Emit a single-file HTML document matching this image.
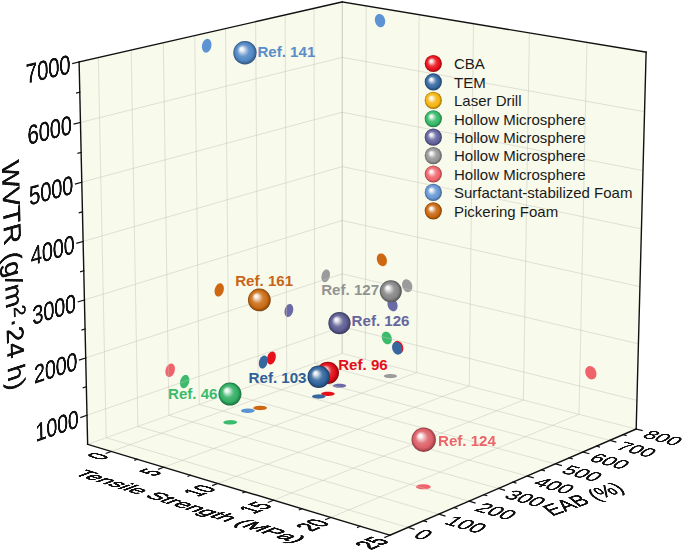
<!DOCTYPE html>
<html><head><meta charset="utf-8"><title>3D scatter</title>
<style>
html,body{margin:0;padding:0;background:#fff;overflow:hidden;}
#c{position:relative;width:685px;height:552px;overflow:hidden;background:#fff;font-family:"Liberation Sans",sans-serif;}
#c svg{position:absolute;left:0;top:0;}
.pl{position:absolute;left:0;top:0;transform-origin:0 0;white-space:nowrap;color:#111;}
.lg{position:absolute;font-size:15px;line-height:18px;color:#1a1a1a;white-space:nowrap;}
.rf{position:absolute;font-size:15.1px;line-height:17px;font-weight:bold;white-space:nowrap;}
.yt2 sup{font-size:0.7em;vertical-align:0;position:relative;top:-0.45em;}
</style></head><body><div id="c">
<svg width="685" height="552" viewBox="0 0 685 552"><defs><radialGradient id="g141" cx="0.5" cy="0.5" r="0.5" fx="0.34" fy="0.32"><stop offset="0" stop-color="#ffffff"/><stop offset="0.15" stop-color="#eaf0f8"/><stop offset="0.3" stop-color="#b0c9e4"/><stop offset="0.5" stop-color="#6897cc"/><stop offset="0.78" stop-color="#4f86c4"/><stop offset="1" stop-color="#31537a"/></radialGradient><radialGradient id="g161" cx="0.5" cy="0.5" r="0.5" fx="0.34" fy="0.32"><stop offset="0" stop-color="#ffffff"/><stop offset="0.15" stop-color="#f9ede3"/><stop offset="0.3" stop-color="#e7bc94"/><stop offset="0.5" stop-color="#d17f33"/><stop offset="0.78" stop-color="#c96a12"/><stop offset="1" stop-color="#7d420b"/></radialGradient><radialGradient id="g127" cx="0.5" cy="0.5" r="0.5" fx="0.34" fy="0.32"><stop offset="0" stop-color="#ffffff"/><stop offset="0.15" stop-color="#f0f0f0"/><stop offset="0.3" stop-color="#c8c8c8"/><stop offset="0.5" stop-color="#969696"/><stop offset="0.78" stop-color="#858585"/><stop offset="1" stop-color="#525252"/></radialGradient><radialGradient id="g126" cx="0.5" cy="0.5" r="0.5" fx="0.34" fy="0.32"><stop offset="0" stop-color="#ffffff"/><stop offset="0.15" stop-color="#ebebf2"/><stop offset="0.3" stop-color="#b5b5cd"/><stop offset="0.5" stop-color="#7171a0"/><stop offset="0.78" stop-color="#5a5a90"/><stop offset="1" stop-color="#383859"/></radialGradient><radialGradient id="g96" cx="0.5" cy="0.5" r="0.5" fx="0.34" fy="0.32"><stop offset="0" stop-color="#ffffff"/><stop offset="0.15" stop-color="#fbe2e3"/><stop offset="0.3" stop-color="#f19195"/><stop offset="0.5" stop-color="#e42c35"/><stop offset="0.78" stop-color="#e00a14"/><stop offset="1" stop-color="#8b060c"/></radialGradient><radialGradient id="g103" cx="0.5" cy="0.5" r="0.5" fx="0.34" fy="0.32"><stop offset="0" stop-color="#ffffff"/><stop offset="0.15" stop-color="#e6ecf3"/><stop offset="0.3" stop-color="#a1b9d2"/><stop offset="0.5" stop-color="#4c79aa"/><stop offset="0.78" stop-color="#2f639c"/><stop offset="1" stop-color="#1d3d61"/></radialGradient><radialGradient id="g46" cx="0.5" cy="0.5" r="0.5" fx="0.34" fy="0.32"><stop offset="0" stop-color="#ffffff"/><stop offset="0.15" stop-color="#e6f5ec"/><stop offset="0.3" stop-color="#a1dbb8"/><stop offset="0.5" stop-color="#4cb978"/><stop offset="0.78" stop-color="#2fae62"/><stop offset="1" stop-color="#1d6c3d"/></radialGradient><radialGradient id="g124" cx="0.5" cy="0.5" r="0.5" fx="0.34" fy="0.32"><stop offset="0" stop-color="#ffffff"/><stop offset="0.15" stop-color="#fbeced"/><stop offset="0.3" stop-color="#efb7bb"/><stop offset="0.5" stop-color="#e1757c"/><stop offset="0.78" stop-color="#dc5e67"/><stop offset="1" stop-color="#883a40"/></radialGradient><radialGradient id="l0" cx="0.5" cy="0.5" r="0.5" fx="0.36" fy="0.34"><stop offset="0" stop-color="#ffffff"/><stop offset="0.15" stop-color="#fce2e4"/><stop offset="0.3" stop-color="#f59398"/><stop offset="0.5" stop-color="#eb313a"/><stop offset="0.78" stop-color="#e8101a"/><stop offset="1" stop-color="#900a10"/></radialGradient><radialGradient id="l1" cx="0.5" cy="0.5" r="0.5" fx="0.36" fy="0.34"><stop offset="0" stop-color="#ffffff"/><stop offset="0.15" stop-color="#e7edf4"/><stop offset="0.3" stop-color="#a3bad4"/><stop offset="0.5" stop-color="#507bad"/><stop offset="0.78" stop-color="#3366a0"/><stop offset="1" stop-color="#203f63"/></radialGradient><radialGradient id="l2" cx="0.5" cy="0.5" r="0.5" fx="0.36" fy="0.34"><stop offset="0" stop-color="#ffffff"/><stop offset="0.15" stop-color="#fef6e2"/><stop offset="0.3" stop-color="#fadd93"/><stop offset="0.5" stop-color="#f6be30"/><stop offset="0.78" stop-color="#f5b40e"/><stop offset="1" stop-color="#987009"/></radialGradient><radialGradient id="l3" cx="0.5" cy="0.5" r="0.5" fx="0.36" fy="0.34"><stop offset="0" stop-color="#ffffff"/><stop offset="0.15" stop-color="#e7f6ed"/><stop offset="0.3" stop-color="#a4dfba"/><stop offset="0.5" stop-color="#50c27b"/><stop offset="0.78" stop-color="#34b866"/><stop offset="1" stop-color="#20723f"/></radialGradient><radialGradient id="l4" cx="0.5" cy="0.5" r="0.5" fx="0.36" fy="0.34"><stop offset="0" stop-color="#ffffff"/><stop offset="0.15" stop-color="#ececf3"/><stop offset="0.3" stop-color="#b8b8d3"/><stop offset="0.5" stop-color="#7878ac"/><stop offset="0.78" stop-color="#62629e"/><stop offset="1" stop-color="#3d3d62"/></radialGradient><radialGradient id="l5" cx="0.5" cy="0.5" r="0.5" fx="0.36" fy="0.34"><stop offset="0" stop-color="#ffffff"/><stop offset="0.15" stop-color="#f2f2f2"/><stop offset="0.3" stop-color="#cfcfcf"/><stop offset="0.5" stop-color="#a4a4a4"/><stop offset="0.78" stop-color="#959595"/><stop offset="1" stop-color="#5c5c5c"/></radialGradient><radialGradient id="l6" cx="0.5" cy="0.5" r="0.5" fx="0.36" fy="0.34"><stop offset="0" stop-color="#ffffff"/><stop offset="0.15" stop-color="#fdeced"/><stop offset="0.3" stop-color="#f8b9bd"/><stop offset="0.5" stop-color="#f27a81"/><stop offset="0.78" stop-color="#f0646c"/><stop offset="1" stop-color="#953e43"/></radialGradient><radialGradient id="l7" cx="0.5" cy="0.5" r="0.5" fx="0.36" fy="0.34"><stop offset="0" stop-color="#ffffff"/><stop offset="0.15" stop-color="#edf2fa"/><stop offset="0.3" stop-color="#bad0ec"/><stop offset="0.5" stop-color="#7ba5da"/><stop offset="0.78" stop-color="#6596d4"/><stop offset="1" stop-color="#3f5d83"/></radialGradient><radialGradient id="l8" cx="0.5" cy="0.5" r="0.5" fx="0.36" fy="0.34"><stop offset="0" stop-color="#ffffff"/><stop offset="0.15" stop-color="#f8ede2"/><stop offset="0.3" stop-color="#e6ba93"/><stop offset="0.5" stop-color="#d07b31"/><stop offset="0.78" stop-color="#c8660f"/><stop offset="1" stop-color="#7c3f09"/></radialGradient></defs><polygon points="87.64,444.32 342.17,353.44 342.27,1.95 79.11,62.00" fill="#f8faeb"/><polygon points="342.17,353.44 636.17,429.02 646.12,52.19 342.27,1.95" fill="#f8faeb"/><polygon points="87.64,444.32 389.90,535.23 636.17,429.02 342.17,353.44" fill="#f8faeb"/><g><path d="M211.46,44.65 L211.37,43.48 L211.15,42.39 L210.79,41.39 L210.30,40.53 L209.71,39.83 L209.02,39.30 L208.27,38.97 L207.46,38.85 L206.63,38.93 L205.81,39.23 L205.01,39.72 L204.26,40.40 L203.59,41.24 L203.01,42.21 L202.55,43.30 L202.21,44.46 L202.01,45.66 L201.95,46.86 L202.03,48.03 L202.26,49.13 L202.63,50.12 L203.12,50.99 L203.71,51.69 L204.40,52.21 L205.16,52.53 L205.96,52.65 L206.79,52.56 L207.61,52.27 L208.41,51.77 L209.15,51.09 L209.82,50.25 L210.40,49.28 L210.86,48.20 L211.20,47.04 L211.40,45.85Z" fill="#5b93d3"/><path d="M385.19,21.45 L385.12,20.29 L384.89,19.15 L384.51,18.04 L384.00,17.02 L383.36,16.10 L382.63,15.32 L381.81,14.69 L380.94,14.25 L380.04,14.00 L379.15,13.95 L378.28,14.11 L377.46,14.45 L376.72,14.99 L376.08,15.69 L375.57,16.54 L375.18,17.52 L374.95,18.58 L374.87,19.71 L374.94,20.86 L375.17,22.00 L375.55,23.10 L376.06,24.13 L376.69,25.04 L377.42,25.82 L378.24,26.45 L379.10,26.89 L380.00,27.14 L380.89,27.20 L381.77,27.05 L382.58,26.70 L383.32,26.17 L383.96,25.47 L384.48,24.62 L384.87,23.64 L385.11,22.58Z" fill="#5b93d3"/><path d="M252.92,412.14 L253.64,411.82 L254.18,411.48 L254.53,411.11 L254.68,410.73 L254.61,410.34 L254.35,409.97 L253.88,409.63 L253.23,409.32 L252.42,409.04 L251.47,408.82 L250.41,408.66 L249.27,408.56 L248.09,408.53 L246.90,408.56 L245.74,408.66 L244.64,408.82 L243.64,409.04 L242.77,409.31 L242.05,409.62 L241.50,409.96 L241.15,410.33 L241.00,410.71 L241.06,411.09 L241.32,411.46 L241.78,411.81 L242.43,412.13 L243.24,412.40 L244.19,412.62 L245.26,412.78 L246.40,412.88 L247.58,412.92 L248.78,412.89 L249.94,412.79 L251.04,412.63 L252.05,412.41Z" fill="#5b93d3"/><path d="M223.83,288.48 L223.75,287.38 L223.53,286.35 L223.18,285.43 L222.71,284.65 L222.13,284.02 L221.47,283.58 L220.73,283.33 L219.95,283.29 L219.15,283.44 L218.35,283.80 L217.57,284.34 L216.85,285.05 L216.19,285.91 L215.63,286.90 L215.18,287.97 L214.85,289.11 L214.65,290.28 L214.59,291.43 L214.68,292.54 L214.90,293.57 L215.25,294.49 L215.72,295.27 L216.30,295.89 L216.97,296.33 L217.70,296.57 L218.48,296.62 L219.29,296.46 L220.09,296.10 L220.86,295.56 L221.58,294.85 L222.24,293.99 L222.80,293.00 L223.25,291.93 L223.57,290.79 L223.77,289.63Z" fill="#cd6712"/><path d="M386.94,260.98 L386.87,259.87 L386.65,258.75 L386.28,257.67 L385.77,256.65 L385.15,255.73 L384.43,254.93 L383.63,254.28 L382.78,253.80 L381.90,253.50 L381.02,253.40 L380.16,253.49 L379.36,253.77 L378.64,254.24 L378.01,254.87 L377.51,255.65 L377.13,256.56 L376.90,257.57 L376.82,258.65 L376.89,259.76 L377.12,260.87 L377.48,261.96 L377.99,262.97 L378.61,263.89 L379.32,264.69 L380.12,265.34 L380.97,265.82 L381.85,266.12 L382.73,266.23 L383.58,266.14 L384.39,265.86 L385.11,265.40 L385.74,264.77 L386.25,263.98 L386.63,263.07 L386.86,262.06Z" fill="#cd6712"/><path d="M265.21,409.38 L265.92,409.07 L266.46,408.72 L266.80,408.35 L266.94,407.97 L266.88,407.60 L266.61,407.23 L266.14,406.88 L265.49,406.57 L264.67,406.30 L263.72,406.08 L262.67,405.92 L261.53,405.82 L260.35,405.79 L259.17,405.82 L258.01,405.92 L256.92,406.08 L255.92,406.29 L255.05,406.56 L254.34,406.87 L253.80,407.22 L253.45,407.58 L253.30,407.96 L253.37,408.34 L253.63,408.71 L254.10,409.06 L254.75,409.37 L255.56,409.64 L256.51,409.86 L257.57,410.02 L258.71,410.12 L259.90,410.16 L261.09,410.12 L262.25,410.03 L263.34,409.87 L264.34,409.65Z" fill="#cd6712"/><path d="M329.95,274.41 L329.89,273.35 L329.69,272.35 L329.38,271.47 L328.95,270.71 L328.43,270.11 L327.82,269.68 L327.14,269.44 L326.42,269.39 L325.68,269.54 L324.94,269.87 L324.22,270.39 L323.54,271.07 L322.93,271.90 L322.41,272.84 L321.98,273.88 L321.66,274.97 L321.47,276.09 L321.41,277.20 L321.48,278.27 L321.67,279.26 L321.99,280.15 L322.42,280.90 L322.95,281.50 L323.56,281.93 L324.23,282.16 L324.95,282.21 L325.69,282.06 L326.44,281.72 L327.15,281.20 L327.83,280.52 L328.44,279.70 L328.96,278.75 L329.38,277.72 L329.70,276.63 L329.89,275.52Z" fill="#9b9b9b"/><path d="M412.31,286.92 L412.24,285.80 L412.01,284.68 L411.64,283.59 L411.13,282.57 L410.50,281.64 L409.78,280.83 L408.97,280.18 L408.11,279.69 L407.22,279.38 L406.33,279.27 L405.46,279.36 L404.65,279.63 L403.92,280.09 L403.28,280.73 L402.77,281.51 L402.39,282.42 L402.15,283.43 L402.07,284.51 L402.14,285.62 L402.36,286.74 L402.73,287.83 L403.24,288.85 L403.86,289.78 L404.59,290.58 L405.39,291.24 L406.25,291.73 L407.14,292.03 L408.03,292.15 L408.89,292.07 L409.71,291.79 L410.44,291.33 L411.08,290.70 L411.60,289.92 L411.98,289.01 L412.22,288.00Z" fill="#9b9b9b"/><path d="M395.50,377.40 L396.16,377.10 L396.63,376.78 L396.92,376.44 L397.01,376.08 L396.90,375.72 L396.59,375.38 L396.10,375.05 L395.43,374.76 L394.61,374.51 L393.66,374.30 L392.62,374.15 L391.50,374.06 L390.36,374.03 L389.21,374.06 L388.11,374.15 L387.07,374.30 L386.13,374.50 L385.32,374.75 L384.67,375.04 L384.19,375.37 L383.89,375.71 L383.80,376.07 L383.90,376.42 L384.21,376.77 L384.70,377.09 L385.37,377.39 L386.19,377.64 L387.14,377.85 L388.19,378.00 L389.30,378.10 L390.45,378.13 L391.60,378.10 L392.71,378.01 L393.76,377.85 L394.70,377.65Z" fill="#9b9b9b"/><path d="M293.25,309.10 L293.18,308.02 L292.98,307.03 L292.65,306.14 L292.21,305.38 L291.67,304.78 L291.04,304.36 L290.35,304.12 L289.61,304.08 L288.85,304.24 L288.09,304.59 L287.35,305.12 L286.66,305.82 L286.04,306.66 L285.50,307.62 L285.06,308.67 L284.74,309.78 L284.55,310.91 L284.49,312.03 L284.56,313.10 L284.77,314.10 L285.09,314.99 L285.54,315.74 L286.08,316.34 L286.71,316.76 L287.40,316.99 L288.14,317.03 L288.90,316.87 L289.66,316.52 L290.40,315.98 L291.09,315.29 L291.71,314.45 L292.24,313.49 L292.68,312.44 L292.99,311.34 L293.19,310.21Z" fill="#6a6aa6"/><path d="M397.59,306.08 L397.52,304.97 L397.29,303.85 L396.92,302.77 L396.42,301.75 L395.80,300.82 L395.07,300.02 L394.27,299.37 L393.42,298.88 L392.54,298.57 L391.66,298.46 L390.80,298.53 L390.00,298.81 L389.27,299.26 L388.64,299.88 L388.13,300.66 L387.76,301.56 L387.52,302.56 L387.44,303.63 L387.52,304.74 L387.74,305.85 L388.11,306.93 L388.61,307.95 L389.23,308.87 L389.95,309.67 L390.75,310.33 L391.60,310.82 L392.48,311.13 L393.36,311.24 L394.22,311.17 L395.02,310.90 L395.75,310.45 L396.38,309.83 L396.89,309.05 L397.27,308.15 L397.50,307.15Z" fill="#6a6aa6"/><path d="M344.56,387.09 L345.23,386.79 L345.73,386.46 L346.04,386.11 L346.15,385.75 L346.06,385.39 L345.76,385.04 L345.28,384.71 L344.62,384.41 L343.80,384.15 L342.86,383.94 L341.81,383.79 L340.69,383.69 L339.54,383.66 L338.38,383.69 L337.26,383.78 L336.20,383.93 L335.24,384.14 L334.41,384.40 L333.74,384.69 L333.23,385.02 L332.92,385.37 L332.81,385.74 L332.90,386.10 L333.18,386.45 L333.67,386.78 L334.32,387.08 L335.14,387.34 L336.09,387.55 L337.14,387.71 L338.26,387.80 L339.42,387.84 L340.58,387.81 L341.71,387.71 L342.77,387.56 L343.73,387.35Z" fill="#6a6aa6"/><path d="M275.79,356.41 L275.72,355.34 L275.51,354.35 L275.18,353.47 L274.74,352.73 L274.19,352.14 L273.56,351.73 L272.86,351.50 L272.11,351.48 L271.34,351.65 L270.57,352.01 L269.83,352.56 L269.14,353.26 L268.51,354.11 L267.97,355.08 L267.53,356.14 L267.21,357.25 L267.01,358.38 L266.95,359.50 L267.03,360.58 L267.24,361.57 L267.57,362.45 L268.02,363.20 L268.57,363.78 L269.20,364.19 L269.90,364.41 L270.65,364.43 L271.42,364.26 L272.18,363.89 L272.92,363.35 L273.62,362.64 L274.24,361.79 L274.78,360.82 L275.22,359.77 L275.54,358.66 L275.73,357.53Z" fill="#e8111b"/><path d="M403.31,348.60 L403.24,347.49 L403.01,346.38 L402.64,345.30 L402.14,344.28 L401.52,343.36 L400.80,342.55 L400.00,341.89 L399.14,341.39 L398.26,341.08 L397.38,340.95 L396.53,341.02 L395.73,341.28 L395.00,341.72 L394.37,342.34 L393.86,343.10 L393.48,343.99 L393.25,344.98 L393.17,346.05 L393.24,347.15 L393.46,348.26 L393.83,349.33 L394.33,350.35 L394.95,351.28 L395.67,352.08 L396.47,352.74 L397.32,353.24 L398.20,353.56 L399.08,353.69 L399.93,353.62 L400.74,353.37 L401.47,352.92 L402.10,352.31 L402.61,351.55 L402.99,350.66 L403.22,349.66Z" fill="#e8111b"/><path d="M332.98,395.18 L333.66,394.88 L334.17,394.54 L334.48,394.19 L334.60,393.82 L334.51,393.45 L334.22,393.09 L333.73,392.76 L333.07,392.45 L332.25,392.19 L331.30,391.98 L330.25,391.82 L329.12,391.73 L327.96,391.69 L326.79,391.72 L325.65,391.82 L324.59,391.97 L323.62,392.18 L322.78,392.44 L322.10,392.75 L321.59,393.08 L321.27,393.44 L321.15,393.81 L321.23,394.17 L321.52,394.53 L322.00,394.87 L322.66,395.17 L323.48,395.44 L324.43,395.65 L325.49,395.81 L326.62,395.91 L327.79,395.94 L328.96,395.91 L330.10,395.81 L331.17,395.66 L332.14,395.45Z" fill="#e8111b"/><path d="M267.73,360.51 L267.66,359.43 L267.45,358.44 L267.12,357.56 L266.67,356.81 L266.12,356.22 L265.48,355.81 L264.78,355.59 L264.03,355.56 L263.25,355.74 L262.48,356.10 L261.73,356.65 L261.03,357.36 L260.40,358.21 L259.86,359.18 L259.42,360.24 L259.10,361.36 L258.90,362.49 L258.84,363.62 L258.92,364.69 L259.13,365.69 L259.46,366.57 L259.91,367.32 L260.47,367.90 L261.11,368.31 L261.81,368.53 L262.56,368.55 L263.34,368.38 L264.11,368.01 L264.85,367.46 L265.55,366.75 L266.18,365.90 L266.72,364.93 L267.16,363.87 L267.48,362.76 L267.67,361.63Z" fill="#36679f"/><path d="M402.21,349.58 L402.14,348.48 L401.91,347.37 L401.55,346.29 L401.04,345.27 L400.42,344.34 L399.70,343.53 L398.90,342.87 L398.05,342.38 L397.17,342.06 L396.29,341.94 L395.43,342.00 L394.63,342.26 L393.91,342.71 L393.28,343.32 L392.77,344.08 L392.39,344.97 L392.16,345.97 L392.08,347.03 L392.15,348.13 L392.37,349.24 L392.74,350.31 L393.24,351.33 L393.86,352.26 L394.58,353.06 L395.38,353.72 L396.23,354.22 L397.10,354.54 L397.98,354.67 L398.84,354.60 L399.64,354.35 L400.37,353.91 L401.00,353.29 L401.51,352.53 L401.89,351.64 L402.12,350.65Z" fill="#36679f"/><path d="M323.85,397.87 L324.54,397.56 L325.05,397.22 L325.37,396.87 L325.49,396.49 L325.40,396.12 L325.11,395.76 L324.63,395.43 L323.97,395.12 L323.15,394.86 L322.20,394.65 L321.14,394.49 L320.01,394.39 L318.84,394.36 L317.67,394.39 L316.54,394.48 L315.46,394.64 L314.49,394.85 L313.65,395.11 L312.96,395.42 L312.45,395.75 L312.12,396.11 L312.00,396.48 L312.08,396.85 L312.37,397.21 L312.85,397.55 L313.50,397.86 L314.32,398.12 L315.28,398.34 L316.34,398.50 L317.47,398.59 L318.64,398.63 L319.81,398.60 L320.96,398.50 L322.03,398.34 L323.01,398.13Z" fill="#36679f"/><path d="M189.36,379.93 L189.28,378.83 L189.05,377.81 L188.69,376.90 L188.21,376.14 L187.62,375.54 L186.94,375.12 L186.20,374.90 L185.40,374.88 L184.58,375.06 L183.77,375.44 L182.98,376.01 L182.24,376.75 L181.58,377.63 L181.01,378.63 L180.55,379.72 L180.22,380.87 L180.02,382.04 L179.96,383.19 L180.05,384.30 L180.28,385.32 L180.64,386.22 L181.13,386.98 L181.72,387.58 L182.40,388.00 L183.15,388.21 L183.94,388.23 L184.76,388.04 L185.57,387.66 L186.36,387.09 L187.09,386.36 L187.76,385.47 L188.32,384.47 L188.78,383.39 L189.11,382.24 L189.31,381.08Z" fill="#3dbb6c"/><path d="M391.83,339.28 L391.76,338.18 L391.54,337.07 L391.17,335.99 L390.67,334.97 L390.05,334.05 L389.33,333.24 L388.54,332.59 L387.69,332.09 L386.81,331.78 L385.94,331.66 L385.09,331.73 L384.29,331.99 L383.57,332.43 L382.94,333.05 L382.44,333.81 L382.06,334.70 L381.83,335.69 L381.75,336.76 L381.82,337.86 L382.05,338.96 L382.41,340.04 L382.91,341.05 L383.53,341.97 L384.24,342.78 L385.04,343.43 L385.88,343.93 L386.76,344.24 L387.63,344.37 L388.49,344.30 L389.28,344.04 L390.01,343.60 L390.63,342.99 L391.14,342.23 L391.52,341.34 L391.75,340.34Z" fill="#3dbb6c"/><path d="M235.34,423.79 L236.07,423.46 L236.62,423.11 L236.98,422.73 L237.14,422.34 L237.08,421.95 L236.82,421.57 L236.35,421.22 L235.70,420.90 L234.88,420.62 L233.93,420.40 L232.86,420.23 L231.71,420.13 L230.52,420.10 L229.31,420.13 L228.14,420.23 L227.03,420.39 L226.01,420.62 L225.12,420.89 L224.39,421.21 L223.83,421.56 L223.47,421.94 L223.31,422.33 L223.36,422.72 L223.62,423.10 L224.08,423.45 L224.73,423.78 L225.54,424.05 L226.50,424.28 L227.58,424.45 L228.73,424.55 L229.93,424.58 L231.14,424.55 L232.31,424.45 L233.43,424.29 L234.45,424.06Z" fill="#3dbb6c"/><path d="M174.92,368.67 L174.83,367.56 L174.60,366.54 L174.24,365.62 L173.75,364.85 L173.15,364.24 L172.47,363.82 L171.71,363.59 L170.90,363.57 L170.08,363.75 L169.25,364.13 L168.45,364.70 L167.71,365.44 L167.04,366.32 L166.46,367.33 L166.00,368.43 L165.67,369.58 L165.47,370.76 L165.41,371.92 L165.50,373.03 L165.73,374.06 L166.10,374.97 L166.59,375.75 L167.19,376.35 L167.88,376.77 L168.64,376.99 L169.44,377.01 L170.27,376.83 L171.09,376.44 L171.89,375.88 L172.63,375.14 L173.30,374.25 L173.87,373.25 L174.33,372.15 L174.67,371.00 L174.86,369.83Z" fill="#f0636b"/><path d="M596.46,374.11 L596.40,372.95 L596.17,371.79 L595.78,370.65 L595.24,369.57 L594.57,368.60 L593.78,367.75 L592.91,367.05 L591.97,366.52 L591.00,366.18 L590.03,366.04 L589.08,366.11 L588.19,366.38 L587.37,366.83 L586.67,367.47 L586.09,368.27 L585.65,369.20 L585.38,370.24 L585.27,371.36 L585.33,372.51 L585.56,373.68 L585.95,374.81 L586.48,375.88 L587.15,376.86 L587.94,377.71 L588.81,378.41 L589.74,378.94 L590.71,379.28 L591.68,379.42 L592.63,379.36 L593.53,379.09 L594.34,378.64 L595.05,378.00 L595.63,377.20 L596.07,376.27 L596.35,375.23Z" fill="#f0636b"/><path d="M429.06,488.42 L429.78,488.06 L430.29,487.66 L430.60,487.24 L430.69,486.80 L430.55,486.36 L430.20,485.93 L429.63,485.54 L428.88,485.17 L427.96,484.86 L426.90,484.61 L425.74,484.42 L424.50,484.31 L423.22,484.27 L421.95,484.31 L420.73,484.42 L419.58,484.60 L418.54,484.86 L417.66,485.17 L416.94,485.52 L416.42,485.92 L416.10,486.35 L416.01,486.79 L416.14,487.23 L416.49,487.65 L417.05,488.05 L417.80,488.42 L418.72,488.73 L419.78,488.98 L420.95,489.17 L422.20,489.29 L423.48,489.33 L424.75,489.29 L425.98,489.18 L427.14,488.99 L428.17,488.74Z" fill="#f0636b"/></g><g stroke-opacity="0.6"><line x1="106.18" y1="437.70" x2="98.33" y2="57.61" stroke="#c3c1bc" stroke-width="0.8"/><line x1="106.18" y1="437.70" x2="407.95" y2="527.45" stroke="#c3c1bc" stroke-width="0.8"/><line x1="137.89" y1="426.38" x2="131.18" y2="50.12" stroke="#c3c1bc" stroke-width="0.8"/><line x1="137.89" y1="426.38" x2="438.79" y2="514.15" stroke="#c3c1bc" stroke-width="0.8"/><line x1="168.92" y1="415.30" x2="163.32" y2="42.79" stroke="#c3c1bc" stroke-width="0.8"/><line x1="168.92" y1="415.30" x2="468.93" y2="501.15" stroke="#c3c1bc" stroke-width="0.8"/><line x1="199.31" y1="404.45" x2="194.76" y2="35.61" stroke="#c3c1bc" stroke-width="0.8"/><line x1="199.31" y1="404.45" x2="498.38" y2="488.45" stroke="#c3c1bc" stroke-width="0.8"/><line x1="229.07" y1="393.82" x2="225.52" y2="28.59" stroke="#c3c1bc" stroke-width="0.8"/><line x1="229.07" y1="393.82" x2="527.17" y2="476.03" stroke="#c3c1bc" stroke-width="0.8"/><line x1="258.21" y1="383.42" x2="255.64" y2="21.72" stroke="#c3c1bc" stroke-width="0.8"/><line x1="258.21" y1="383.42" x2="555.33" y2="463.89" stroke="#c3c1bc" stroke-width="0.8"/><line x1="286.77" y1="373.22" x2="285.12" y2="14.99" stroke="#c3c1bc" stroke-width="0.8"/><line x1="286.77" y1="373.22" x2="582.87" y2="452.01" stroke="#c3c1bc" stroke-width="0.8"/><line x1="314.74" y1="363.23" x2="313.99" y2="8.41" stroke="#c3c1bc" stroke-width="0.8"/><line x1="314.74" y1="363.23" x2="609.81" y2="440.39" stroke="#c3c1bc" stroke-width="0.8"/><line x1="86.99" y1="415.30" x2="342.17" y2="326.69" stroke="#c3c1bc" stroke-width="0.8"/><line x1="342.17" y1="326.69" x2="636.93" y2="400.41" stroke="#c3c1bc" stroke-width="0.8"/><line x1="85.71" y1="357.92" x2="342.19" y2="273.83" stroke="#c3c1bc" stroke-width="0.8"/><line x1="342.19" y1="273.83" x2="638.42" y2="343.83" stroke="#c3c1bc" stroke-width="0.8"/><line x1="84.42" y1="299.94" x2="342.21" y2="220.47" stroke="#c3c1bc" stroke-width="0.8"/><line x1="342.21" y1="220.47" x2="639.93" y2="286.68" stroke="#c3c1bc" stroke-width="0.8"/><line x1="83.11" y1="241.37" x2="342.22" y2="166.61" stroke="#c3c1bc" stroke-width="0.8"/><line x1="342.22" y1="166.61" x2="641.45" y2="228.95" stroke="#c3c1bc" stroke-width="0.8"/><line x1="81.79" y1="182.20" x2="342.24" y2="112.24" stroke="#c3c1bc" stroke-width="0.8"/><line x1="342.24" y1="112.24" x2="642.99" y2="170.63" stroke="#c3c1bc" stroke-width="0.8"/><line x1="80.46" y1="122.41" x2="342.26" y2="57.36" stroke="#c3c1bc" stroke-width="0.8"/><line x1="342.26" y1="57.36" x2="644.55" y2="111.71" stroke="#c3c1bc" stroke-width="0.8"/><line x1="365.36" y1="359.40" x2="366.19" y2="5.91" stroke="#c3c1bc" stroke-width="0.8"/><line x1="111.32" y1="451.44" x2="365.36" y2="359.40" stroke="#c3c1bc" stroke-width="0.8"/><line x1="416.64" y1="372.58" x2="419.10" y2="14.66" stroke="#c3c1bc" stroke-width="0.8"/><line x1="163.79" y1="467.22" x2="416.64" y2="372.58" stroke="#c3c1bc" stroke-width="0.8"/><line x1="469.30" y1="386.12" x2="473.49" y2="23.65" stroke="#c3c1bc" stroke-width="0.8"/><line x1="217.81" y1="483.47" x2="469.30" y2="386.12" stroke="#c3c1bc" stroke-width="0.8"/><line x1="523.40" y1="400.03" x2="529.41" y2="32.90" stroke="#c3c1bc" stroke-width="0.8"/><line x1="273.45" y1="500.21" x2="523.40" y2="400.03" stroke="#c3c1bc" stroke-width="0.8"/><line x1="579.00" y1="414.33" x2="586.93" y2="42.41" stroke="#c3c1bc" stroke-width="0.8"/><line x1="330.79" y1="517.45" x2="579.00" y2="414.33" stroke="#c3c1bc" stroke-width="0.8"/><line x1="342.17" y1="353.44" x2="342.27" y2="1.95" stroke="#aaa9a2" stroke-width="1"/><line x1="87.64" y1="444.32" x2="342.17" y2="353.44" stroke="#c3c1bc" stroke-width="0.8"/><line x1="342.17" y1="353.44" x2="636.17" y2="429.02" stroke="#c3c1bc" stroke-width="0.8"/></g><g stroke-linecap="square"><line x1="79.11" y1="62.00" x2="87.64" y2="444.32" stroke="#111" stroke-width="1.4"/><line x1="79.11" y1="62.00" x2="342.27" y2="1.95" stroke="#111" stroke-width="1.4"/><line x1="342.27" y1="1.95" x2="646.12" y2="52.19" stroke="#111" stroke-width="1.4"/><line x1="646.12" y1="52.19" x2="636.17" y2="429.02" stroke="#111" stroke-width="1.4"/><line x1="87.64" y1="444.32" x2="389.90" y2="535.23" stroke="#111" stroke-width="1.4"/><line x1="389.90" y1="535.23" x2="636.17" y2="429.02" stroke="#111" stroke-width="1.4"/><line x1="86.99" y1="415.30" x2="80.84" y2="417.44" stroke="#111" stroke-width="1.2"/><line x1="86.35" y1="386.68" x2="83.27" y2="387.72" stroke="#111" stroke-width="1.2"/><line x1="85.71" y1="357.92" x2="79.53" y2="359.94" stroke="#111" stroke-width="1.2"/><line x1="85.07" y1="329.00" x2="81.97" y2="329.99" stroke="#111" stroke-width="1.2"/><line x1="84.42" y1="299.94" x2="78.20" y2="301.86" stroke="#111" stroke-width="1.2"/><line x1="83.77" y1="270.73" x2="80.65" y2="271.66" stroke="#111" stroke-width="1.2"/><line x1="83.11" y1="241.37" x2="76.86" y2="243.18" stroke="#111" stroke-width="1.2"/><line x1="82.45" y1="211.86" x2="79.32" y2="212.74" stroke="#111" stroke-width="1.2"/><line x1="81.79" y1="182.20" x2="75.50" y2="183.89" stroke="#111" stroke-width="1.2"/><line x1="81.13" y1="152.38" x2="77.98" y2="153.20" stroke="#111" stroke-width="1.2"/><line x1="80.46" y1="122.41" x2="74.13" y2="123.98" stroke="#111" stroke-width="1.2"/><line x1="79.79" y1="92.28" x2="76.62" y2="93.04" stroke="#111" stroke-width="1.2"/><line x1="79.11" y1="62.00" x2="72.75" y2="63.45" stroke="#111" stroke-width="1.2"/><line x1="111.32" y1="451.44" x2="106.18" y2="453.31" stroke="#111" stroke-width="1.2"/><line x1="137.37" y1="459.28" x2="134.80" y2="460.22" stroke="#111" stroke-width="1.2"/><line x1="163.79" y1="467.22" x2="158.66" y2="469.14" stroke="#111" stroke-width="1.2"/><line x1="190.60" y1="475.29" x2="188.05" y2="476.26" stroke="#111" stroke-width="1.2"/><line x1="217.81" y1="483.47" x2="212.70" y2="485.45" stroke="#111" stroke-width="1.2"/><line x1="245.42" y1="491.78" x2="242.88" y2="492.78" stroke="#111" stroke-width="1.2"/><line x1="273.45" y1="500.21" x2="268.37" y2="502.24" stroke="#111" stroke-width="1.2"/><line x1="301.90" y1="508.77" x2="299.37" y2="509.80" stroke="#111" stroke-width="1.2"/><line x1="330.79" y1="517.45" x2="325.73" y2="519.55" stroke="#111" stroke-width="1.2"/><line x1="360.11" y1="526.28" x2="357.60" y2="527.34" stroke="#111" stroke-width="1.2"/><line x1="389.90" y1="535.23" x2="384.88" y2="537.40" stroke="#111" stroke-width="1.2"/><line x1="407.95" y1="527.45" x2="414.08" y2="529.27" stroke="#111" stroke-width="1.2"/><line x1="423.46" y1="520.76" x2="426.52" y2="521.66" stroke="#111" stroke-width="1.2"/><line x1="438.79" y1="514.15" x2="444.90" y2="515.93" stroke="#111" stroke-width="1.2"/><line x1="453.95" y1="507.61" x2="456.99" y2="508.49" stroke="#111" stroke-width="1.2"/><line x1="468.93" y1="501.15" x2="475.01" y2="502.89" stroke="#111" stroke-width="1.2"/><line x1="483.74" y1="494.76" x2="486.77" y2="495.62" stroke="#111" stroke-width="1.2"/><line x1="498.38" y1="488.45" x2="504.44" y2="490.15" stroke="#111" stroke-width="1.2"/><line x1="512.86" y1="482.20" x2="515.88" y2="483.04" stroke="#111" stroke-width="1.2"/><line x1="527.17" y1="476.03" x2="533.20" y2="477.69" stroke="#111" stroke-width="1.2"/><line x1="541.33" y1="469.93" x2="544.34" y2="470.75" stroke="#111" stroke-width="1.2"/><line x1="555.33" y1="463.89" x2="561.33" y2="465.51" stroke="#111" stroke-width="1.2"/><line x1="569.17" y1="457.92" x2="572.17" y2="458.72" stroke="#111" stroke-width="1.2"/><line x1="582.87" y1="452.01" x2="588.85" y2="453.60" stroke="#111" stroke-width="1.2"/><line x1="596.41" y1="446.17" x2="599.39" y2="446.96" stroke="#111" stroke-width="1.2"/><line x1="609.81" y1="440.39" x2="615.76" y2="441.95" stroke="#111" stroke-width="1.2"/><line x1="623.06" y1="434.68" x2="626.03" y2="435.45" stroke="#111" stroke-width="1.2"/><line x1="636.17" y1="429.02" x2="642.10" y2="430.55" stroke="#111" stroke-width="1.2"/></g><g><circle cx="390.79" cy="291.29" r="11.01" fill="url(#g127)"/><circle cx="339.48" cy="323.18" r="11.10" fill="url(#g126)"/><circle cx="327.85" cy="372.82" r="11.15" fill="url(#g96)"/><circle cx="318.71" cy="376.73" r="11.18" fill="url(#g103)"/><circle cx="259.37" cy="299.93" r="11.39" fill="url(#g161)"/><circle cx="229.95" cy="394.04" r="11.47" fill="url(#g46)"/><circle cx="244.96" cy="52.76" r="11.67" fill="url(#g141)"/><circle cx="423.71" cy="439.70" r="12.19" fill="url(#g124)"/><circle cx="433.30" cy="63.50" r="8.6" fill="url(#l0)"/><circle cx="433.30" cy="81.92" r="8.6" fill="url(#l1)"/><circle cx="433.30" cy="100.34" r="8.6" fill="url(#l2)"/><circle cx="433.30" cy="118.76" r="8.6" fill="url(#l3)"/><circle cx="433.30" cy="137.18" r="8.6" fill="url(#l4)"/><circle cx="433.30" cy="155.60" r="8.6" fill="url(#l5)"/><circle cx="433.30" cy="174.02" r="8.6" fill="url(#l6)"/><circle cx="433.30" cy="192.44" r="8.6" fill="url(#l7)"/><circle cx="433.30" cy="210.86" r="8.6" fill="url(#l8)"/></g></svg>
<div class="pl" style="width:1200px;line-height:69.00px;font-size:60.00px;text-align:right;transform:matrix3d(0.374722,-0.0757236,0,0.000122098,0.0145594,0.502775,0,4.29877e-05,0,0,1,0,-359.938,553.637,0,1);-webkit-text-stroke:0.9px #111;">1000</div>
<div class="pl" style="width:1200px;line-height:69.00px;font-size:60.00px;text-align:right;transform:matrix3d(0.376918,-0.0761675,0,0.000122814,0.0146448,0.505722,0,4.32396e-05,0,0,1,0,-364.033,488.332,0,1);-webkit-text-stroke:0.9px #111;">2000</div>
<div class="pl" style="width:1200px;line-height:69.00px;font-size:60.00px;text-align:right;transform:matrix3d(0.37914,-0.0766165,0,0.000123538,0.0147311,0.508704,0,4.34946e-05,0,0,1,0,-368.176,422.257,0,1);-webkit-text-stroke:0.9px #111;">3000</div>
<div class="pl" style="width:1200px;line-height:69.00px;font-size:60.00px;text-align:right;transform:matrix3d(0.381389,-0.0770709,0,0.00012427,0.0148185,0.511721,0,4.37525e-05,0,0,1,0,-372.368,355.398,0,1);-webkit-text-stroke:0.9px #111;">4000</div>
<div class="pl" style="width:1200px;line-height:69.00px;font-size:60.00px;text-align:right;transform:matrix3d(0.383664,-0.0775307,0,0.000125012,0.0149069,0.514773,0,4.40135e-05,0,0,1,0,-376.61,287.742,0,1);-webkit-text-stroke:0.9px #111;">5000</div>
<div class="pl" style="width:1200px;line-height:69.00px;font-size:60.00px;text-align:right;transform:matrix3d(0.385967,-0.077996,0,0.000125762,0.0149963,0.517863,0,4.42777e-05,0,0,1,0,-380.903,219.273,0,1);-webkit-text-stroke:0.9px #111;">6000</div>
<div class="pl" style="width:1200px;line-height:69.00px;font-size:60.00px;text-align:right;transform:matrix3d(0.388297,-0.078467,0,0.000126521,0.0150869,0.52099,0,4.4545e-05,0,0,1,0,-385.248,149.978,0,1);-webkit-text-stroke:0.9px #111;">7000</div>
<div class="pl" style="width:1200px;line-height:69.00px;font-size:60.00px;text-align:right;transform:matrix3d(0.35308,-0.0713503,0,0.000115046,0.405646,0.0734227,0,-0.00011626,0,0,1,0,-320.927,598.477,0,1);-webkit-text-stroke:2.4px #111;">0</div>
<div class="pl" style="width:1200px;line-height:69.00px;font-size:60.00px;text-align:right;transform:matrix3d(0.358943,-0.0725351,0,0.000116957,0.412382,0.0746419,0,-0.000118191,0,0,1,0,-268.316,618.902,0,1);-webkit-text-stroke:2.4px #111;">5</div>
<div class="pl" style="width:1200px;line-height:69.00px;font-size:60.00px;text-align:right;transform:matrix3d(0.365004,-0.0737599,0,0.000118932,0.419346,0.0759023,0,-0.000120186,0,0,1,0,-213.93,640.017,0,1);-webkit-text-stroke:2.4px #111;">10</div>
<div class="pl" style="width:1200px;line-height:69.00px;font-size:60.00px;text-align:right;transform:matrix3d(0.371273,-0.0750268,0,0.000120974,0.426548,0.077206,0,-0.000122251,0,0,1,0,-157.674,661.858,0,1);-webkit-text-stroke:2.4px #111;">15</div>
<div class="pl" style="width:1200px;line-height:69.00px;font-size:60.00px;text-align:right;transform:matrix3d(0.377762,-0.076338,0,0.000123089,0.434003,0.0785553,0,-0.000124387,0,0,1,0,-99.4531,684.461,0,1);-webkit-text-stroke:2.4px #111;">20</div>
<div class="pl" style="width:1200px;line-height:69.00px;font-size:60.00px;text-align:right;transform:matrix3d(0.384481,-0.0776958,0,0.000125278,0.441723,0.0799526,0,-0.0001266,0,0,1,0,-39.1605,707.869,0,1);-webkit-text-stroke:2.4px #111;">25</div>
<div class="pl" style="width:1200px;line-height:69.00px;font-size:60.00px;text-align:left;transform:matrix3d(0.30913,0.055953,0,-8.8598e-05,-0.305776,0.150237,0,-9.29443e-05,0,0,1,0,426.815,525.971,0,1);-webkit-text-stroke:1.3px #111;">0</div>
<div class="pl" style="width:1200px;line-height:69.00px;font-size:60.00px;text-align:left;transform:matrix3d(0.305542,0.0553036,0,-8.75696e-05,-0.302227,0.148493,0,-9.18655e-05,0,0,1,0,457.482,512.668,0,1);-webkit-text-stroke:1.3px #111;">100</div>
<div class="pl" style="width:1200px;line-height:69.00px;font-size:60.00px;text-align:left;transform:matrix3d(0.302036,0.0546691,0,-8.65649e-05,-0.298759,0.14679,0,-9.08115e-05,0,0,1,0,487.445,499.67,0,1);-webkit-text-stroke:1.3px #111;">200</div>
<div class="pl" style="width:1200px;line-height:69.00px;font-size:60.00px;text-align:left;transform:matrix3d(0.29861,0.054049,0,-8.5583e-05,-0.29537,0.145124,0,-8.97814e-05,0,0,1,0,516.729,486.967,0,1);-webkit-text-stroke:1.3px #111;">300</div>
<div class="pl" style="width:1200px;line-height:69.00px;font-size:60.00px;text-align:left;transform:matrix3d(0.295261,0.0534427,0,-8.46231e-05,-0.292057,0.143497,0,-8.87744e-05,0,0,1,0,545.356,474.549,0,1);-webkit-text-stroke:1.3px #111;">400</div>
<div class="pl" style="width:1200px;line-height:69.00px;font-size:60.00px;text-align:left;transform:matrix3d(0.291986,0.05285,0,-8.36845e-05,-0.288818,0.141905,0,-8.77898e-05,0,0,1,0,573.347,462.407,0,1);-webkit-text-stroke:1.3px #111;">500</div>
<div class="pl" style="width:1200px;line-height:69.00px;font-size:60.00px;text-align:left;transform:matrix3d(0.288783,0.0522702,0,-8.27664e-05,-0.28565,0.140348,0,-8.68267e-05,0,0,1,0,600.725,450.531,0,1);-webkit-text-stroke:1.3px #111;">600</div>
<div class="pl" style="width:1200px;line-height:69.00px;font-size:60.00px;text-align:left;transform:matrix3d(0.285649,0.051703,0,-8.18683e-05,-0.28255,0.138826,0,-8.58846e-05,0,0,1,0,627.508,438.912,0,1);-webkit-text-stroke:1.3px #111;">700</div>
<div class="pl" style="width:1200px;line-height:69.00px;font-size:60.00px;text-align:left;transform:matrix3d(0.282583,0.051148,0,-8.09895e-05,-0.279517,0.137335,0,-8.49626e-05,0,0,1,0,653.717,427.544,0,1);-webkit-text-stroke:1.3px #111;">800</div>
<div class="pl" style="width:1200px;line-height:69.00px;font-size:60.00px;text-align:center;transform:matrix3d(0.324652,0.0587626,0,-9.30468e-05,-0.319483,0.064561,0,-0.000104099,0,0,1,0,-7.63272,437.732,0,1);-webkit-text-stroke:2.4px #111;">Tensile Strength (MPa)</div>
<div class="pl" style="width:1200px;line-height:69.00px;font-size:60.00px;text-align:center;transform:matrix3d(0.400597,-0.0649359,0,0.000104923,0.240879,0.197341,0,-7.73611e-05,0,0,1,0,370.318,561.003,0,1);-webkit-text-stroke:1.3px #111;">EAB (%)</div>
<div class="pl yt2" style="width:1200px;line-height:69.00px;font-size:60.00px;text-align:center;transform:matrix3d(0.0139651,0.482252,0,4.12329e-05,-0.413529,0.0835657,0,-0.000134743,0,0,1,0,19.7145,-10.2017,0,1);-webkit-text-stroke:0.9px #111;">WVTR (g/m<sup>2</sup>&#183;24 h)</div>
<div class="lg" style="left:454px;top:55.30px">CBA</div>
<div class="lg" style="left:454px;top:73.72px">TEM</div>
<div class="lg" style="left:454px;top:92.14px">Laser Drill</div>
<div class="lg" style="left:454px;top:110.56px">Hollow Microsphere</div>
<div class="lg" style="left:454px;top:128.98px">Hollow Microsphere</div>
<div class="lg" style="left:454px;top:147.40px">Hollow Microsphere</div>
<div class="lg" style="left:454px;top:165.82px">Hollow Microsphere</div>
<div class="lg" style="left:454px;top:184.24px">Surfactant-stabilized Foam</div>
<div class="lg" style="left:454px;top:202.66px">Pickering Foam</div>
<div class="rf" style="left:257.40px;top:43.10px;color:#5b8ec8">Ref. 141</div>
<div class="rf" style="left:235.20px;top:271.80px;color:#c8651a">Ref. 161</div>
<div class="rf" style="left:321.20px;top:280.90px;color:#939393">Ref. 127</div>
<div class="rf" style="left:351.60px;top:312.40px;color:#66669c">Ref. 126</div>
<div class="rf" style="left:338.20px;top:355.90px;color:#e3101b">Ref. 96</div>
<div class="rf" style="left:248.60px;top:369.30px;color:#2f5f98">Ref. 103</div>
<div class="rf" style="left:168.00px;top:384.50px;color:#3dba6c">Ref. 46</div>
<div class="rf" style="left:438.00px;top:432.10px;color:#ec6368">Ref. 124</div>
</div></body></html>
